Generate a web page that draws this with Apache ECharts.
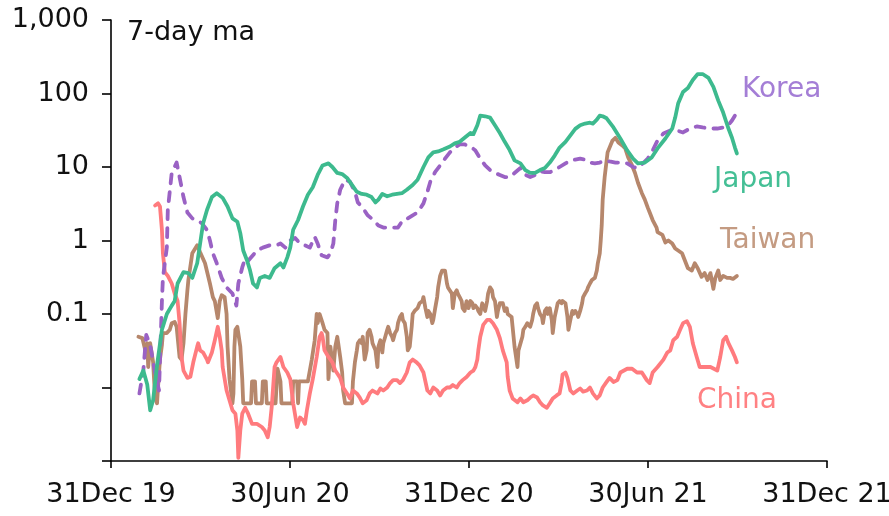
<!DOCTYPE html>
<html><head><meta charset="utf-8">
<script src="https://cdn.jsdelivr.net/npm/echarts@6/dist/echarts.min.js"></script>
<style>html,body{margin:0;padding:0;background:#fff}#c{width:889px;height:516px}</style>
</head><body><div id="c"></div>
<script>
// x = days since 31 Dec 2019, y = 7-day moving average (log scale)
const xTickLabels = ['31Dec 19', '30Jun 20', '31Dec 20', '30Jun 21', '31Dec 21'];
const yTickLabels = ['', '', '0.1', '1', '10', '100', '1,000']; // 0.001 ... 1000
const seriesNames = ['Korea', 'Japan', 'Taiwan', 'China'];

const japan = [[29,0.013],[33,0.017],[37,0.011],[40,0.0049],[43,0.0067],[47,0.020],[52,0.061],[57,0.10],[62,0.13],[65,0.15],[68,0.26],[74,0.37],[79,0.36],[83,0.31],[88,0.49],[91,0.91],[94,1.7],[98,2.6],[103,3.9],[108,4.4],[114,3.8],[119,2.9],[124,2.0],[129,1.8],[132,1.26],[135,0.73],[139,0.53],[142,0.39],[145,0.26],[149,0.23],[152,0.31],[157,0.33],[162,0.31],[167,0.42],[173,0.49],[176,0.43],[180,0.59],[183,0.80],[186,1.4],[191,1.9],[196,2.9],[201,4.2],[206,5.3],[211,7.8],[216,10.5],[222,11.2],[226,10],[231,8.3],[236,8.0],[241,7.1],[246,5.7],[251,4.6],[256,4.3],[261,4.2],[266,3.9],[270,3.3],[273,3.6],[277,4.3],[282,4.0],[287,4.2],[292,4.3],[297,4.4],[302,4.9],[308,5.7],[313,6.7],[319,10],[324,13.5],[329,15.8],[334,16.3],[339,17.3],[346,19],[351,21],[356,22],[361,25],[367,29],[370,28],[374,37],[377,50],[382,49],[387,47],[392,37],[397,29],[402,22],[407,17],[412,12.3],[418,11.2],[423,9.1],[428,8.3],[433,8.3],[438,9.1],[443,9.7],[448,11.5],[453,14.3],[458,18.4],[464,22],[469,27],[474,33],[479,37],[484,39],[489,40],[492,39],[496,44],[499,50],[502,49],[506,46],[513,34.5],[520,24.4],[527,16.8],[533,13],[538,11.2],[545,11.5],[552,13.5],[558,17.9],[566,24.4],[573,33.4],[576,47],[579,73],[584,105],[589,119],[594,153],[599,184],[604,184],[610,163],[615,123],[620,80],[625,55],[630,34.5],[634,25],[637,18.4],[639,15.3]];

const korea = [[29,0.0083],[33,0.017],[36,0.052],[40,0.038],[45,0.016],[49,0.0091],[52,0.15],[53,0.31],[57,0.80],[58,2.6],[62,8.3],[67,11.5],[70,7.3],[74,3.9],[78,2.4],[83,2.0],[88,1.9],[93,1.7],[98,1.39],[101,1.0],[104,0.67],[108,0.49],[113,0.31],[118,0.23],[124,0.19],[128,0.13],[130,0.26],[134,0.43],[137,0.57],[140,0.53],[149,0.73],[155,0.80],[162,0.86],[169,0.86],[173,0.91],[178,0.80],[183,1.0],[188,1.08],[193,0.91],[198,0.86],[203,0.80],[208,1.12],[211,0.91],[215,0.63],[221,0.59],[224,0.67],[227,0.91],[229,1.9],[231,3.2],[234,4.9],[239,6.7],[244,6.3],[249,4.6],[252,3.3],[257,2.8],[262,2.2],[268,1.9],[273,1.6],[278,1.5],[283,1.5],[288,1.5],[293,1.5],[298,1.9],[303,2.0],[308,2.2],[313,2.4],[319,3.2],[323,4.6],[326,6.3],[331,8.6],[336,10.5],[341,13],[346,15.8],[351,18.4],[356,20.3],[361,20.3],[367,19],[372,16.8],[377,13],[382,10.5],[387,9.1],[392,8.3],[397,7.8],[402,7.3],[407,7.3],[412,8.3],[418,9.7],[423,7.8],[428,7.3],[433,7.8],[438,8.8],[443,8.5],[448,8.5],[453,9.1],[458,10],[464,11.2],[469,12.3],[474,12.6],[479,13],[484,12.6],[489,11.5],[494,11.2],[499,11.5],[504,12.3],[509,11.9],[515,11.5],[520,11.5],[527,11.2],[533,10],[538,9.7],[543,11.2],[548,13],[553,16.8],[558,22.9],[564,28.6],[571,31.4],[578,31.4],[584,29.5],[591,33.4],[598,35.6],[604,34.5],[612,33.4],[619,33.4],[625,34.5],[630,36.7],[634,42.9],[637,50],[639,53]];

const taiwan = [[28,0.049],[32,0.047],[35,0.032],[37,0.040],[38,0.019],[40,0.040],[43,0.022],[45,0.0073],[47,0.0061],[48,0.010],[50,0.024],[52,0.038],[53,0.055],[57,0.055],[60,0.061],[62,0.075],[65,0.078],[67,0.067],[70,0.026],[72,0.024],[74,0.040],[76,0.10],[78,0.21],[79,0.29],[83,0.67],[88,0.86],[91,0.69],[96,0.49],[101,0.26],[104,0.17],[106,0.15],[109,0.088],[111,0.15],[113,0.18],[116,0.17],[118,0.10],[119,0.036],[121,0.013],[124,0.0061],[125,0.0083],[126,0.036],[127,0.061],[129,0.067],[130,0.064],[132,0.036],[134,0.013],[135,0.0061],[143,0.0061],[144,0.0121],[147,0.0121],[148,0.0061],[154,0.0061],[155,0.0121],[158,0.0121],[159,0.0061],[168,0.0061],[170,0.018],[173,0.0121],[174,0.0061],[185,0.0061],[186,0.0121],[190,0.0121],[191,0.0061],[192,0.0121],[201,0.0121],[205,0.024],[208,0.044],[210,0.10],[211,0.075],[213,0.10],[215,0.10],[216,0.075],[218,0.061],[221,0.055],[222,0.013],[224,0.036],[226,0.022],[227,0.017],[229,0.036],[231,0.049],[232,0.040],[234,0.026],[236,0.016],[237,0.0091],[239,0.0061],[246,0.0061],[247,0.0121],[249,0.022],[251,0.032],[252,0.040],[254,0.044],[256,0.040],[257,0.049],[259,0.024],[261,0.032],[262,0.055],[264,0.061],[266,0.049],[267,0.040],[270,0.032],[272,0.019],[273,0.036],[275,0.044],[277,0.030],[278,0.040],[280,0.049],[282,0.061],[283,0.067],[285,0.055],[287,0.049],[288,0.044],[290,0.055],[292,0.061],[293,0.075],[295,0.091],[297,0.10],[298,0.083],[300,0.075],[302,0.049],[303,0.032],[305,0.036],[307,0.067],[308,0.10],[310,0.11],[312,0.11],[313,0.12],[315,0.14],[318,0.15],[319,0.17],[321,0.12],[323,0.091],[324,0.11],[326,0.10],[328,0.075],[329,0.083],[331,0.12],[333,0.17],[334,0.23],[336,0.33],[338,0.39],[339,0.37],[341,0.39],[343,0.26],[344,0.23],[346,0.24],[348,0.19],[349,0.12],[351,0.19],[353,0.21],[354,0.19],[356,0.17],[358,0.15],[359,0.12],[361,0.11],[363,0.15],[365,0.12],[367,0.15],[369,0.14],[370,0.12],[372,0.13],[374,0.12],[375,0.11],[377,0.10],[379,0.14],[380,0.13],[382,0.11],[384,0.15],[385,0.19],[387,0.23],[389,0.21],[390,0.17],[392,0.15],[394,0.091],[395,0.11],[397,0.14],[399,0.14],[400,0.14],[402,0.11],[404,0.12],[405,0.10],[407,0.10],[409,0.091],[410,0.067],[412,0.036],[415,0.019],[416,0.032],[418,0.032],[420,0.049],[421,0.061],[423,0.067],[425,0.075],[426,0.078],[428,0.067],[430,0.083],[431,0.10],[433,0.13],[435,0.14],[436,0.12],[438,0.10],[440,0.091],[441,0.075],[443,0.11],[445,0.12],[446,0.10],[448,0.12],[450,0.083],[451,0.055],[453,0.091],[455,0.12],[456,0.14],[458,0.15],[460,0.14],[461,0.15],[464,0.14],[466,0.091],[467,0.061],[469,0.083],[471,0.11],[472,0.10],[474,0.11],[476,0.10],[477,0.091],[479,0.11],[481,0.14],[482,0.17],[484,0.19],[486,0.21],[487,0.23],[489,0.26],[491,0.29],[492,0.30],[494,0.31],[496,0.39],[497,0.49],[499,0.67],[500,1.0],[501,1.6],[502,3.6],[504,7.3],[507,15.8],[512,22.9],[515,25],[518,21.6],[522,19.6],[525,17.9],[528,13.5],[532,10.5],[535,8.3],[538,6.1],[542,4.4],[545,3.6],[548,2.8],[550,2.4],[553,1.9],[557,1.5],[558,1.3],[563,1.19],[566,0.94],[569,1.0],[573,0.91],[576,0.78],[579,0.73],[583,0.67],[586,0.53],[589,0.42],[593,0.39],[596,0.49],[599,0.42],[603,0.32],[606,0.36],[609,0.29],[612,0.36],[615,0.22],[617,0.31],[620,0.39],[622,0.29],[625,0.33],[629,0.31],[632,0.31],[635,0.30],[639,0.33]];

const china = [[45,3.0],[48,3.2],[50,2.9],[52,1.39],[53,0.67],[55,0.37],[58,0.33],[62,0.26],[65,0.19],[68,0.15],[70,0.075],[72,0.026],[74,0.017],[78,0.0135],[81,0.014],[84,0.022],[88,0.036],[89,0.040],[91,0.032],[94,0.030],[98,0.024],[99,0.022],[103,0.030],[106,0.044],[109,0.067],[111,0.049],[113,0.032],[114,0.019],[118,0.0091],[124,0.0049],[127,0.0044],[129,0.0026],[130,0.0011],[132,0.0026],[134,0.0044],[137,0.0053],[140,0.0044],[144,0.0032],[149,0.0032],[154,0.0029],[157,0.0026],[160,0.0021],[162,0.0029],[164,0.0053],[167,0.019],[169,0.022],[173,0.026],[176,0.019],[180,0.016],[183,0.013],[186,0.0061],[190,0.0029],[193,0.0039],[196,0.0036],[198,0.0032],[200,0.0049],[203,0.0083],[206,0.013],[210,0.026],[213,0.049],[215,0.055],[216,0.049],[218,0.032],[222,0.026],[226,0.022],[229,0.017],[231,0.016],[234,0.0135],[237,0.010],[241,0.0083],[244,0.0071],[247,0.0091],[251,0.0083],[254,0.0073],[257,0.0061],[261,0.0067],[264,0.0083],[267,0.0091],[272,0.0083],[275,0.0097],[278,0.0091],[282,0.010],[285,0.0115],[288,0.0126],[292,0.0126],[295,0.0115],[298,0.0126],[302,0.016],[305,0.022],[308,0.024],[312,0.022],[315,0.020],[319,0.016],[323,0.0091],[326,0.0083],[329,0.010],[333,0.0091],[336,0.0078],[339,0.0091],[343,0.010],[346,0.010],[349,0.0108],[353,0.010],[356,0.0115],[359,0.0126],[363,0.0139],[367,0.016],[370,0.017],[372,0.019],[374,0.024],[375,0.032],[377,0.049],[380,0.071],[384,0.083],[387,0.083],[390,0.075],[394,0.061],[397,0.047],[400,0.032],[404,0.022],[405,0.014],[407,0.0091],[410,0.0071],[415,0.0063],[418,0.0071],[421,0.0063],[425,0.0067],[428,0.0073],[431,0.0078],[435,0.0073],[438,0.0063],[441,0.0057],[445,0.0053],[448,0.0061],[451,0.0071],[455,0.0078],[458,0.0083],[460,0.0115],[461,0.015],[464,0.016],[466,0.0135],[469,0.0091],[472,0.0083],[476,0.0091],[479,0.0097],[482,0.0088],[486,0.0091],[489,0.010],[492,0.0083],[496,0.0071],[499,0.0078],[502,0.010],[506,0.0119],[509,0.0135],[513,0.0119],[517,0.0126],[520,0.016],[522,0.017],[527,0.018],[532,0.018],[537,0.016],[542,0.016],[547,0.0126],[550,0.0115],[553,0.016],[558,0.019],[564,0.024],[568,0.030],[571,0.032],[574,0.044],[578,0.049],[581,0.061],[584,0.075],[588,0.080],[591,0.067],[594,0.040],[598,0.026],[601,0.019],[606,0.019],[612,0.019],[619,0.017],[622,0.026],[625,0.044],[628,0.049],[630,0.041],[634,0.032],[637,0.026],[639,0.022]];

const FONT = '"DejaVu Sans", sans-serif';
const AXIS_FS = 27;
const LABEL_FS = 28;
const TXT = '#111';
const C = { Korea: '#9a62c4', Japan: '#3dba8e', Taiwan: '#b6876c', China: '#ff7b7e' };
const CL = { Korea: '#a47ed6', Japan: '#44bf95', Taiwan: '#c49b82', China: '#ff8183' };

const chart = echarts.init(document.getElementById('c'), null, { renderer: 'canvas' });
const lineBase = (name, data, extra) => Object.assign({
  name, type: 'line', data, showSymbol: false, symbol: 'none', smooth: false,
  lineStyle: { color: C[name], width: 3.8, join: 'round', cap: 'round' }, z: 2
}, extra || {});

chart.setOption({
  animation: false,
  backgroundColor: '#fff',
  grid: { left: 111, right: 62, top: 20, bottom: 55, containLabel: false, outerBoundsMode: 'none' },
  xAxis: {
    type: 'value', min: 0, max: 731, interval: 182.75,
    axisLine: { show: true, onZero: false, lineStyle: { color: '#000', width: 1.6 } },
    axisTick: { show: true, length: 7, lineStyle: { color: '#000', width: 1.6 } },
    splitLine: { show: false },
    axisLabel: { margin: 20, fontSize: AXIS_FS, fontFamily: FONT, color: TXT, showMinLabel: true, showMaxLabel: true,
      hideOverlap: false, formatter: v => xTickLabels[Math.round(v / 182.75)] }
  },
  yAxis: {
    type: 'log', logBase: 10, min: 0.001, max: 1000,
    axisLine: { show: true, lineStyle: { color: '#000', width: 1.6 } },
    axisTick: { show: true, length: 9, lineStyle: { color: '#000', width: 1.6 } },
    splitLine: { show: false },
    axisLabel: { margin: 22, fontSize: AXIS_FS, fontFamily: FONT, color: TXT,
      formatter: v => yTickLabels[Math.round(Math.log10(v)) + 3] }
  },
  graphic: [
    { type: 'text', left: 127, top: 19, style: { text: '7-day ma', font: AXIS_FS + 'px ' + FONT, fill: TXT } },
    { type: 'text', left: 742, top: 76, style: { text: seriesNames[0], font: LABEL_FS + 'px ' + FONT, fill: CL.Korea } },
    { type: 'text', left: 714, top: 166, style: { text: seriesNames[1], font: LABEL_FS + 'px ' + FONT, fill: CL.Japan } },
    { type: 'text', left: 720, top: 227, style: { text: seriesNames[2], font: LABEL_FS + 'px ' + FONT, fill: CL.Taiwan } },
    { type: 'text', left: 697, top: 387, style: { text: seriesNames[3], font: LABEL_FS + 'px ' + FONT, fill: CL.China } }
  ],
  series: [
    lineBase('Taiwan', taiwan),
    lineBase('China', china),
    lineBase('Korea', korea, { lineStyle: { color: C.Korea, width: 3.8, type: [9, 9], cap: 'round', join: 'round' } }),
    lineBase('Japan', japan)
  ]
});
</script>
</body></html>
